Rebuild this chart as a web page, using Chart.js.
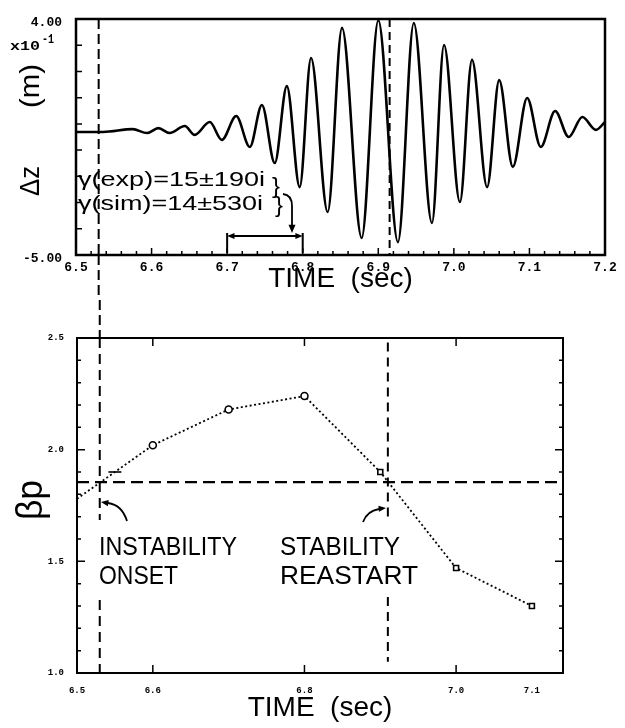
<!DOCTYPE html>
<html lang="en">
<head>
<meta charset="UTF-8">
<title>Vertical displacement and poloidal beta</title>
<script src="https://cdn.jsdelivr.net/npm/chart.js"></script>
<style>
  body { margin: 0; background: #fff; }
  #wrap { position: relative; width: 625px; height: 728px; }
  canvas { position: absolute; left: 0; }
  #zChart { top: 0; }
  #betaChart { top: 300px; }
</style>
</head>
<body>
<div id="wrap">
  <canvas id="zChart" width="625" height="300"></canvas>
  <canvas id="betaChart" width="625" height="428"></canvas>
</div>
<script>
// top panel: vertical displacement dz (x10^-1 m) vs time, read at the turning points
const zTime  = [6.500, 6.536, 6.575, 6.594, 6.609, 6.624, 6.644, 6.657, 6.677, 6.693,
                6.712, 6.730, 6.746, 6.763, 6.779, 6.796, 6.811, 6.833, 6.852, 6.878,
                6.900, 6.926, 6.947, 6.971, 6.987, 7.008, 7.024, 7.044, 7.060, 7.078,
                7.097, 7.115, 7.134, 7.152, 7.170, 7.188, 7.200];
const zValue = [-0.31, -0.31, -0.20, -0.35, -0.16, -0.35, -0.08, -0.42, 0.07, -0.61,
                0.30, -0.88, 0.72, -1.49, 1.44, -2.41, 2.51, -3.36, 3.66, -4.35,
                3.95, -4.51, 3.85, -3.78, 3.01, -2.98, 2.44, -2.41, 1.67, -1.64,
                0.99, -0.88, 0.49, -0.50, 0.26, -0.23, 0.07];
const zTickTimes  = [6.5, 6.6, 6.7, 6.8, 6.9, 7.0, 7.1, 7.2];
const zTickValues = [-5, 4];

// bottom panel: poloidal beta vs time
const betaTime  = [6.50, 6.55, 6.60, 6.70, 6.80, 6.90, 7.00, 7.10];
const betaValue = [1.78, 1.90, 2.02, 2.18, 2.24, 1.90, 1.47, 1.30];
const betaTickTimes  = [6.5, 6.6, 6.8, 7.0, 7.1];
const betaTickValues = [1.0, 1.5, 2.0, 2.5];

// marker lines
const onsetTime = 6.53;
const restartTimeZ = 6.915;
const restartTimeBeta = 6.91;
const betaCritical = 1.855;
const growthWindow = [6.7, 6.8];

const SANS = "'Liberation Sans', Arial, sans-serif";
const MONO = "'Liberation Mono', 'Courier New', monospace";

// draw text squeezed/stretched to a given width
function fitText(ctx, text, x, y, size, width, family, rot) {
  ctx.save();
  ctx.font = size + 'px ' + (family || SANS);
  const w = ctx.measureText(text).width;
  ctx.translate(x, y);
  if (rot) {
    ctx.rotate(rot);
    ctx.textAlign = 'center';
    ctx.textBaseline = 'middle';
  }
  ctx.scale(width / w, 1);
  ctx.fillText(text, 0, 0);
  ctx.restore();
}

function arrowHead(ctx, x, y, ang, size) {
  ctx.beginPath();
  ctx.moveTo(x, y);
  ctx.lineTo(x - size * Math.cos(ang - 0.4), y - size * Math.sin(ang - 0.4));
  ctx.lineTo(x - size * Math.cos(ang + 0.4), y - size * Math.sin(ang + 0.4));
  ctx.closePath();
  ctx.fill();
}

function vline(t, top, bottom) {
  return [{x: t, y: top}, {x: t, y: bottom}];
}

const zDecor = {
  id: 'zDecor',
  afterDraw(chart) {
    const {ctx, chartArea: a, scales: {x, y}} = chart;
    ctx.save();
    ctx.strokeStyle = '#000';
    ctx.fillStyle = '#000';

    ctx.lineWidth = 2.5;
    ctx.strokeRect(a.left, a.top, a.right - a.left, a.bottom - a.top);

    // inward ticks
    ctx.lineWidth = 1.5;
    ctx.beginPath();
    for (let i = 0; i <= 35; i++) {
      const px = x.getPixelForValue(6.5 + i * 0.02);
      const len = i % 5 === 0 ? 7 : 4;
      ctx.moveTo(px, a.bottom);
      ctx.lineTo(px, a.bottom - len);
    }
    for (let v = -5; v <= 4; v++) {
      const py = y.getPixelForValue(v);
      ctx.moveTo(a.left, py);
      ctx.lineTo(a.left + 6, py);
    }
    ctx.stroke();

    // onset line carries on down to the lower panel
    const ox = x.getPixelForValue(onsetTime);
    ctx.lineWidth = 2;
    ctx.setLineDash([10, 5]);
    ctx.beginPath();
    ctx.moveTo(ox, a.bottom);
    ctx.lineTo(ox, chart.height);
    ctx.stroke();
    ctx.setLineDash([]);

    // multiplier
    fitText(ctx, 'x10', 10, 50, 11, 30, 'bold ' + MONO);
    fitText(ctx, '-1', 42, 43, 9, 12, 'bold ' + MONO);

    // y title
    fitText(ctx, '(m)', 31, 86, 28, 44, SANS, -Math.PI / 2);
    fitText(ctx, 'Δz', 31, 181, 28, 30, SANS, -Math.PI / 2);

    // growth rates
    fitText(ctx, 'γ(exp)=15±190i', 78, 186, 21, 187);
    fitText(ctx, 'γ(sim)=14±530i', 78, 210, 21, 185);
    fitText(ctx, '}', 272, 193, 22, 8);
    fitText(ctx, '}', 275, 212, 22, 8);

    ctx.lineWidth = 1.8;
    ctx.beginPath();
    ctx.moveTo(283, 194);
    ctx.quadraticCurveTo(292, 195, 292, 206);
    ctx.lineTo(292, 226);
    ctx.stroke();
    arrowHead(ctx, 292, 233, Math.PI / 2, 9);

    // window the rates were fitted over
    const g0 = x.getPixelForValue(growthWindow[0]);
    const g1 = x.getPixelForValue(growthWindow[1]);
    const gy = 236;
    ctx.lineWidth = 2;
    ctx.beginPath();
    ctx.moveTo(g0 + 4, gy);
    ctx.lineTo(g1 - 4, gy);
    ctx.moveTo(g0, gy - 3);
    ctx.lineTo(g0, a.bottom - 2);
    ctx.moveTo(g1, gy - 3);
    ctx.lineTo(g1, a.bottom - 2);
    ctx.stroke();
    arrowHead(ctx, g0, gy, Math.PI, 8);
    arrowHead(ctx, g1, gy, 0, 8);
    ctx.restore();
  }
};

const betaDecor = {
  id: 'betaDecor',
  afterDraw(chart) {
    const {ctx, chartArea: a, scales: {x, y}} = chart;
    ctx.save();
    ctx.strokeStyle = '#000';
    ctx.fillStyle = '#000';

    ctx.lineWidth = 2;
    ctx.strokeRect(a.left, a.top, a.right - a.left, a.bottom - a.top);

    ctx.lineWidth = 1.5;
    ctx.beginPath();
    for (let i = 0; i <= 15; i++) {
      const py = y.getPixelForValue(1.0 + i * 0.1);
      const len = i % 5 === 0 ? 8 : 4;
      ctx.moveTo(a.left, py);
      ctx.lineTo(a.left + len, py);
      ctx.moveTo(a.right, py);
      ctx.lineTo(a.right - len, py);
    }
    [6.6, 6.8, 7.0].forEach(t => {
      const px = x.getPixelForValue(t);
      ctx.moveTo(px, a.bottom);
      ctx.lineTo(px, a.bottom - 8);
      ctx.moveTo(px, a.top);
      ctx.lineTo(px, a.top + 8);
    });
    ctx.stroke();

    // onset line coming down from the upper panel
    const ox = x.getPixelForValue(onsetTime);
    ctx.lineWidth = 2;
    ctx.setLineDash([10, 5]);
    ctx.beginPath();
    ctx.moveTo(ox, 0);
    ctx.lineTo(ox, a.top);
    ctx.stroke();
    ctx.setLineDash([]);

    fitText(ctx, 'βp', 32, 200, 36, 40, SANS, -Math.PI / 2);

    fitText(ctx, 'INSTABILITY', 99, 255, 26, 138);
    fitText(ctx, 'ONSET', 99, 284, 26, 79);
    fitText(ctx, 'STABILITY', 280, 255, 26, 120);
    fitText(ctx, 'REASTART', 280, 284, 26, 138);

    ctx.lineWidth = 1.8;
    ctx.beginPath();
    ctx.moveTo(127, 221);
    ctx.quadraticCurveTo(122, 205, 108, 203);
    ctx.stroke();
    arrowHead(ctx, 101, 202, Math.PI + 0.15, 8);

    ctx.beginPath();
    ctx.moveTo(363, 222);
    ctx.quadraticCurveTo(367, 211, 379, 209);
    ctx.stroke();
    arrowHead(ctx, 386, 208, -0.1, 8);
    ctx.restore();
  }
};

const dashed = (data, dash, width) => ({
  data: data, borderColor: '#000', borderWidth: width, borderDash: dash,
  pointRadius: 0, fill: false, spanGaps: false
});

new Chart(document.getElementById('zChart'), {
  type: 'line',
  data: {
    datasets: [
      {
        data: zTime.map((t, i) => ({x: t, y: zValue[i]})),
        borderColor: '#000', borderWidth: 2.6, pointRadius: 0,
        cubicInterpolationMode: 'monotone', fill: false
      },
      dashed(vline(onsetTime, 4, -5), [10, 5], 2),
      dashed(vline(restartTimeZ, 4, -5), [8, 5], 2)
    ]
  },
  options: {
    responsive: false,
    animation: false,
    events: [],
    layout: { padding: { left: 0, right: 20, top: 19, bottom: 0 } },
    plugins: { legend: { display: false }, tooltip: { enabled: false } },
    scales: {
      x: {
        type: 'linear', min: 6.5, max: 7.2,
        afterBuildTicks: s => { s.ticks = zTickTimes.map(v => ({value: v})); },
        afterFit: s => { s.height = 45; },
        grid: { display: false }, border: { display: false },
        ticks: {
          autoSkip: false, maxRotation: 0, padding: -3, color: '#000',
          font: { family: MONO, size: 13, weight: 'bold' },
          callback: v => v.toFixed(1)
        },
        title: {
          display: true, text: 'TIME  (sec)', color: '#000',
          font: { family: SANS, size: 28 }, padding: { top: 0, bottom: 4 }
        }
      },
      y: {
        type: 'linear', min: -5, max: 4,
        afterBuildTicks: s => { s.ticks = zTickValues.map(v => ({value: v})); },
        afterFit: s => { s.width = 76; },
        grid: { display: false }, border: { display: false },
        ticks: {
          padding: 6, labelOffset: 4, color: '#000',
          font: { family: MONO, size: 13, weight: 'bold' },
          callback: v => v.toFixed(2)
        }
      }
    }
  },
  plugins: [zDecor]
});

new Chart(document.getElementById('betaChart'), {
  type: 'line',
  data: {
    datasets: [
      {
        data: betaTime.map((t, i) => ({x: t, y: betaValue[i]})),
        borderColor: '#000', borderWidth: 1.8, borderDash: [2, 2.5],
        pointStyle: ['circle', 'line', 'circle', 'circle', 'circle', 'rect', 'rect', 'rect'],
        pointRadius: [0, 6.5, 3.5, 3.5, 3.5, 3.5, 3.5, 3.5],
        pointBorderWidth: 1.6, pointBorderColor: '#000', pointBackgroundColor: '#fff',
        fill: false, tension: 0
      },
      dashed([{x: 6.5, y: betaCritical}, {x: 7.141, y: betaCritical}], [12, 6], 2.2),
      dashed([{x: onsetTime, y: 2.5}, {x: onsetTime, y: 1.685}, {x: onsetTime, y: null},
              {x: onsetTime, y: 1.327}, {x: onsetTime, y: 1.0}], [10, 6], 2),
      dashed([{x: restartTimeBeta, y: 2.48}, {x: restartTimeBeta, y: 1.70}, {x: restartTimeBeta, y: null},
              {x: restartTimeBeta, y: 1.34}, {x: restartTimeBeta, y: 1.05}], [9, 6], 2)
    ]
  },
  options: {
    responsive: false,
    animation: false,
    events: [],
    layout: { padding: { left: 0, right: 62, top: 38, bottom: 0 } },
    plugins: { legend: { display: false }, tooltip: { enabled: false } },
    scales: {
      x: {
        type: 'linear', min: 6.5, max: 7.141,
        afterBuildTicks: s => { s.ticks = betaTickTimes.map(v => ({value: v})); },
        afterFit: s => { s.height = 55; },
        grid: { display: false }, border: { display: false },
        ticks: {
          autoSkip: false, maxRotation: 0, padding: 4, color: '#000',
          font: { family: MONO, size: 9, weight: 'bold' },
          callback: v => v.toFixed(1)
        },
        title: {
          display: true, text: 'TIME  (sec)', color: '#000',
          font: { family: SANS, size: 28 }, padding: { top: 0, bottom: 3 }
        }
      },
      y: {
        type: 'linear', min: 1.0, max: 2.5,
        afterBuildTicks: s => { s.ticks = betaTickValues.map(v => ({value: v})); },
        afterFit: s => { s.width = 77; },
        grid: { display: false }, border: { display: false },
        ticks: {
          padding: 5, color: '#000',
          font: { family: MONO, size: 9, weight: 'bold' },
          callback: v => v.toFixed(1)
        }
      }
    }
  },
  plugins: [betaDecor]
});
</script>
</body>
</html>
